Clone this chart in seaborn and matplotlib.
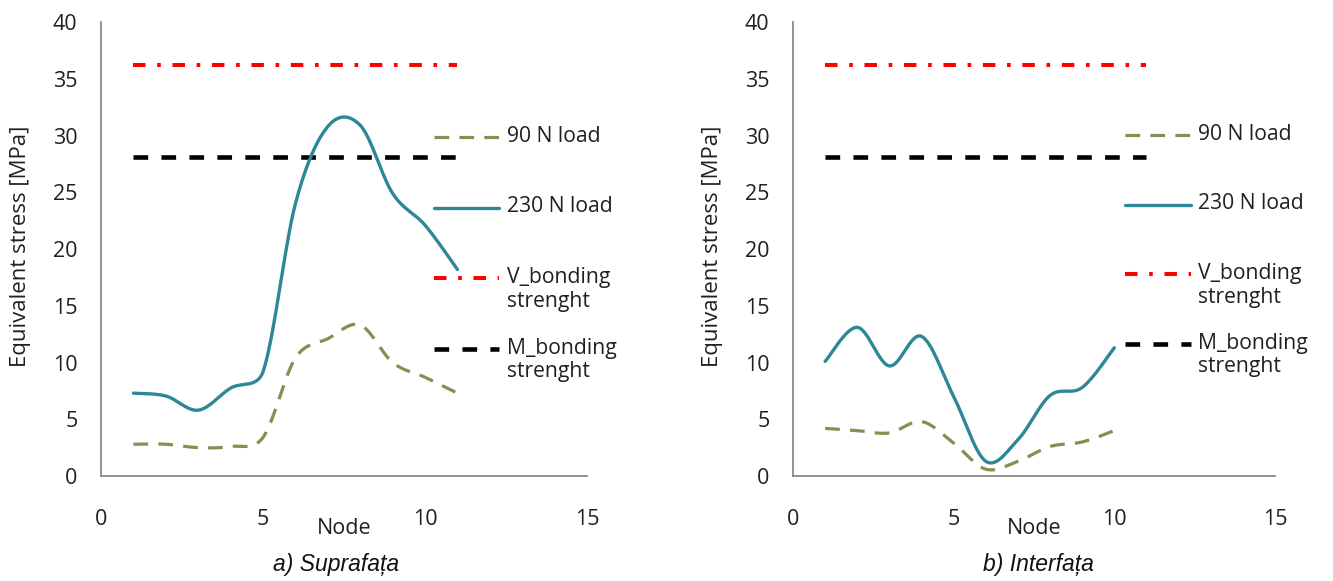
import numpy as np
import pandas as pd
import matplotlib
matplotlib.use("Agg")
import matplotlib.pyplot as plt
import seaborn as sns
from matplotlib.lines import Line2D
from matplotlib.legend_handler import HandlerLine2D

# Equivalent stress per node, surface (a) and interface (b)
nodes_a = [1, 2, 3, 4, 5, 6, 7, 8, 9, 10, 11]
load90_a = [2.8, 2.8, 2.5, 2.6, 3.4, 10.4, 12.1, 13.3, 10.0, 8.7, 7.3]
load230_a = [7.3, 7.05, 5.8, 7.75, 9.2, 24.0, 30.8, 30.9, 24.9, 22.1, 18.2]

nodes_b = [1, 2, 3, 4, 5, 6, 7, 8, 9, 10]
load90_b = [4.2, 4.0, 3.8, 4.8, 2.9, 0.6, 1.3, 2.6, 3.0, 4.0]
load230_b = [10.1, 13.1, 9.7, 12.3, 7.0, 1.3, 3.2, 7.1, 7.8, 11.3]

# Bonding strength limits drawn over nodes 1..11
bond_nodes = [1, 11]
v_bonding = 36.2
m_bonding = 28.1

series_labels = ["90 N load", "230 N load", "V_bonding\nstrenght", "M_bonding\nstrenght"]
captions = ["a) Suprafața", "b) Interfața"]
x_ticks = [0, 5, 10, 15]
y_ticks = [0, 5, 10, 15, 20, 25, 30, 35, 40]

TEAL = "#2E8796"
OLIVE = "#868F52"
RED = "#FF0000"
BLACK = "#000000"
TEXT = "#202020"
AXIS = "#8A8A8A"


def smooth_curve(x, y, sx, sy, n=30):
    """Spreadsheet-style smoothed line: cubic Bezier through every node,
    control arms capped relative to segment length (measured in pixels)."""
    x = np.asarray(x, float)
    y = np.asarray(y, float)
    px = np.concatenate([[x[0]], x, [x[-1]]])
    py = np.concatenate([[y[0]], y, [y[-1]]])

    def dist(i, j):
        return np.hypot((px[j] - px[i]) * sx, (py[j] - py[i]) * sy)

    xs, ys = [], []
    for i in range(len(x) - 1):
        i0, i1, i2, i3 = i, i + 1, i + 2, i + 3
        d12 = dist(i1, i2)
        d02 = dist(i0, i2)
        d13 = dist(i1, i3)
        f1 = d12 / d02 / 2 if d02 / 6 >= d12 / 2 and d02 > 0 else 1 / 6
        f2 = d12 / d13 / 2 if d13 / 6 >= d12 / 2 and d13 > 0 else 1 / 6
        c1x = px[i1] + f1 * (px[i2] - px[i0])
        c1y = py[i1] + f1 * (py[i2] - py[i0])
        c2x = px[i2] - f2 * (px[i3] - px[i1])
        c2y = py[i2] - f2 * (py[i3] - py[i1])
        t = np.linspace(0, 1, n, endpoint=(i == len(x) - 2))
        a, b, c, d = (1 - t) ** 3, 3 * t * (1 - t) ** 2, 3 * t ** 2 * (1 - t), t ** 3
        xs.append(a * px[i1] + b * c1x + c * c2x + d * px[i2])
        ys.append(a * py[i1] + b * c1y + c * c2y + d * py[i2])
    return np.concatenate(xs), np.concatenate(ys)


class FirstLineHandler(HandlerLine2D):
    """Legend line aligned with the first line of a two-line label."""

    def __init__(self, shift, **kw):
        super().__init__(**kw)
        self.shift = shift

    def create_artists(self, legend, orig_handle, xdescent, ydescent,
                       width, height, fontsize, trans):
        arts = super().create_artists(legend, orig_handle, xdescent, ydescent,
                                      width, height, fontsize, trans)
        for a in arts:
            a.set_ydata(np.asarray(a.get_ydata(), float) + self.shift * fontsize)
        return arts


sns.set_theme(style="white")
plt.rcParams["font.family"] = ["Open Sans", "DejaVu Sans"]

fig = plt.figure(figsize=(13.33, 5.81), dpi=100)
ax_a = fig.add_axes([0.0758, 0.1807, 0.3646, 0.7814])
ax_b = fig.add_axes([0.5949, 0.1807, 0.3616, 0.7814])

panels = [
    (ax_a, nodes_a, load90_a, load230_a, 0.685, 0.772, 1.25),
    (ax_b, nodes_b, load90_b, load230_b, 0.689, 0.776, 1.2),
]

for ax, nodes, l90, l230, leg_x, leg_y, leg_space in panels:
    # pixels per data unit along each axis
    ppx = ax.get_position().width * 1333 / 15
    ppy = ax.get_position().height * 581 / 40
    sx, sy = smooth_curve(nodes, l90, ppx, ppy)
    d90 = pd.DataFrame({"Node": sx, "Stress": sy})
    sx, sy = smooth_curve(nodes, l230, ppx, ppy)
    d230 = pd.DataFrame({"Node": sx, "Stress": sy})
    dv = pd.DataFrame({"Node": bond_nodes, "Stress": [v_bonding] * len(bond_nodes)})
    dm = pd.DataFrame({"Node": bond_nodes, "Stress": [m_bonding] * len(bond_nodes)})

    sns.lineplot(data=dv, x="Node", y="Stress", ax=ax, color=RED, lw=2.9,
                 linestyle=(0, (3.1, 2.9, 0.9, 2.9)), sort=False,
                 dash_capstyle="butt", label=series_labels[2])
    sns.lineplot(data=dm, x="Node", y="Stress", ax=ax, color=BLACK, lw=3.3,
                 linestyle=(0, (3.2, 2.9)), sort=False,
                 dash_capstyle="butt", label=series_labels[3])
    sns.lineplot(data=d90, x="Node", y="Stress", ax=ax, color=OLIVE, lw=2.3,
                 linestyle=(0, (4.6, 3.2)), sort=False,
                 dash_capstyle="butt", label=series_labels[0])
    sns.lineplot(data=d230, x="Node", y="Stress", ax=ax, color=TEAL, lw=2.4,
                 sort=False, label=series_labels[1])

    ax.set_xlim(0, 15)
    ax.set_ylim(0, 40)
    ax.set_xticks(x_ticks)
    ax.set_yticks(y_ticks)
    ax.tick_params(axis="both", length=0, labelsize=15.5, colors=TEXT)
    ax.tick_params(axis="x", pad=24)
    ax.tick_params(axis="y", pad=17)
    for side in ("top", "right"):
        ax.spines[side].set_visible(False)
    for side in ("left", "bottom"):
        ax.spines[side].set_color(AXIS)
        ax.spines[side].set_linewidth(1.3)

    ax.set_xlabel("Node", fontsize=15.5, color=TEXT)
    ax.xaxis.label.set_va("center")
    ax.xaxis.set_label_coords(0.5, -0.115)
    ax.set_ylabel("Equivalent stress [MPa]", fontsize=16, color=TEXT)
    ax.yaxis.label.set_va("center")
    ax.yaxis.set_label_coords(-0.166, 0.505)

    handles, labels = ax.get_legend_handles_labels()
    order = [labels.index(s) for s in series_labels]
    hs = [handles[i] for i in order]
    # single-line entries get an empty second line so every row has equal pitch
    ls = [series_labels[0] + "\n", series_labels[1] + "\n",
          series_labels[2], series_labels[3]]
    leg = ax.legend(hs, ls, loc="upper left", bbox_to_anchor=(leg_x, leg_y),
                    frameon=False, fontsize=15.2, borderpad=0, borderaxespad=0,
                    handlelength=3.1, handletextpad=0.35, labelspacing=leg_space,
                    handler_map={Line2D: FirstLineHandler(0.55)})
    for t in leg.get_texts():
        t.set_color(TEXT)
        t.set_linespacing(1.15)

fig.text(0.252, 0.028, captions[0], ha="center", va="center", fontsize=16.5,
         fontstyle="italic", family="Liberation Sans", color="#111111")
fig.text(0.779, 0.028, captions[1], ha="center", va="center", fontsize=16.5,
         fontstyle="italic", family="Liberation Sans", color="#111111")

fig.savefig("out.png", dpi=100, facecolor="white")
